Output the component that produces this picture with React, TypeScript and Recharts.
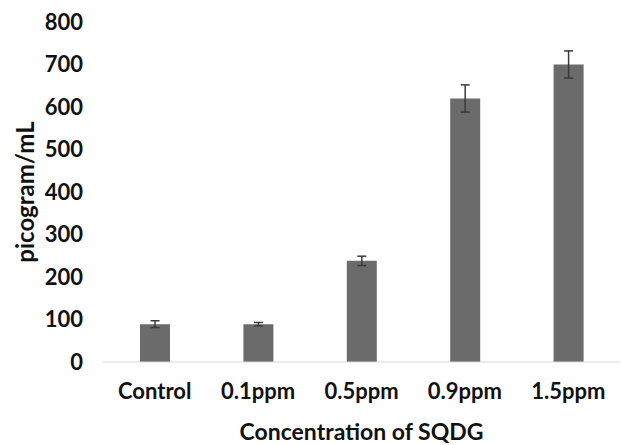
import * as React from "react";
import { BarChart, Bar, XAxis, YAxis, ErrorBar, Label } from "recharts";

const categories = ["Control", "0.1ppm", "0.5ppm", "0.9ppm", "1.5ppm"];
const values = [89, 89, 238, 620, 700];
const errors = [8, 4, 11, 32, 32];
const yTicks = [0, 100, 200, 300, 400, 500, 600, 700, 800];

const data = categories.map((name, i) => ({ name, value: values[i], err: errors[i] }));

const font = "Lato, 'Open Sans', sans-serif";

export default function App() {
  return (
    <div style={{ position: "absolute", left: 0, top: 0, background: "#fff" }}>
      <BarChart
        width={621}
        height={445}
        data={data}
        margin={{ top: 22, right: 1, bottom: 5, left: 0 }}
      >
        <XAxis
          dataKey="name"
          axisLine={{ stroke: "#d9d9d9" }}
          tickLine={false}
          tickMargin={15}
          height={78}
          tick={{ fill: "#111", fontSize: 22, fontWeight: 700, fontFamily: font }}
        >
          <Label
            value="Concentration of SQDG"
            position="insideBottom"
            offset={0}
            style={{ fill: "#111", fontSize: 23, fontWeight: 700, fontFamily: font }}
          />
        </XAxis>
        <YAxis
          domain={[0, 800]}
          ticks={yTicks}
          width={103}
          axisLine={false}
          tickLine={false}
          tickMargin={14}
          tick={{ fill: "#111", fontSize: 22, fontWeight: 700, fontFamily: font }}
        >
          <Label
            value="picogram/mL"
            angle={-90}
            position="insideLeft"
            offset={25}
            style={{ textAnchor: "middle", fill: "#111", fontSize: 24, fontWeight: 700, fontFamily: font }}
          />
        </YAxis>
        <Bar dataKey="value" fill="#6b6b6b" barSize={30} isAnimationActive={false}>
          <ErrorBar dataKey="err" width={4.5} stroke="#3a3a3a" strokeWidth={1.5} isAnimationActive={false} />
        </Bar>
      </BarChart>
    </div>
  );
}
